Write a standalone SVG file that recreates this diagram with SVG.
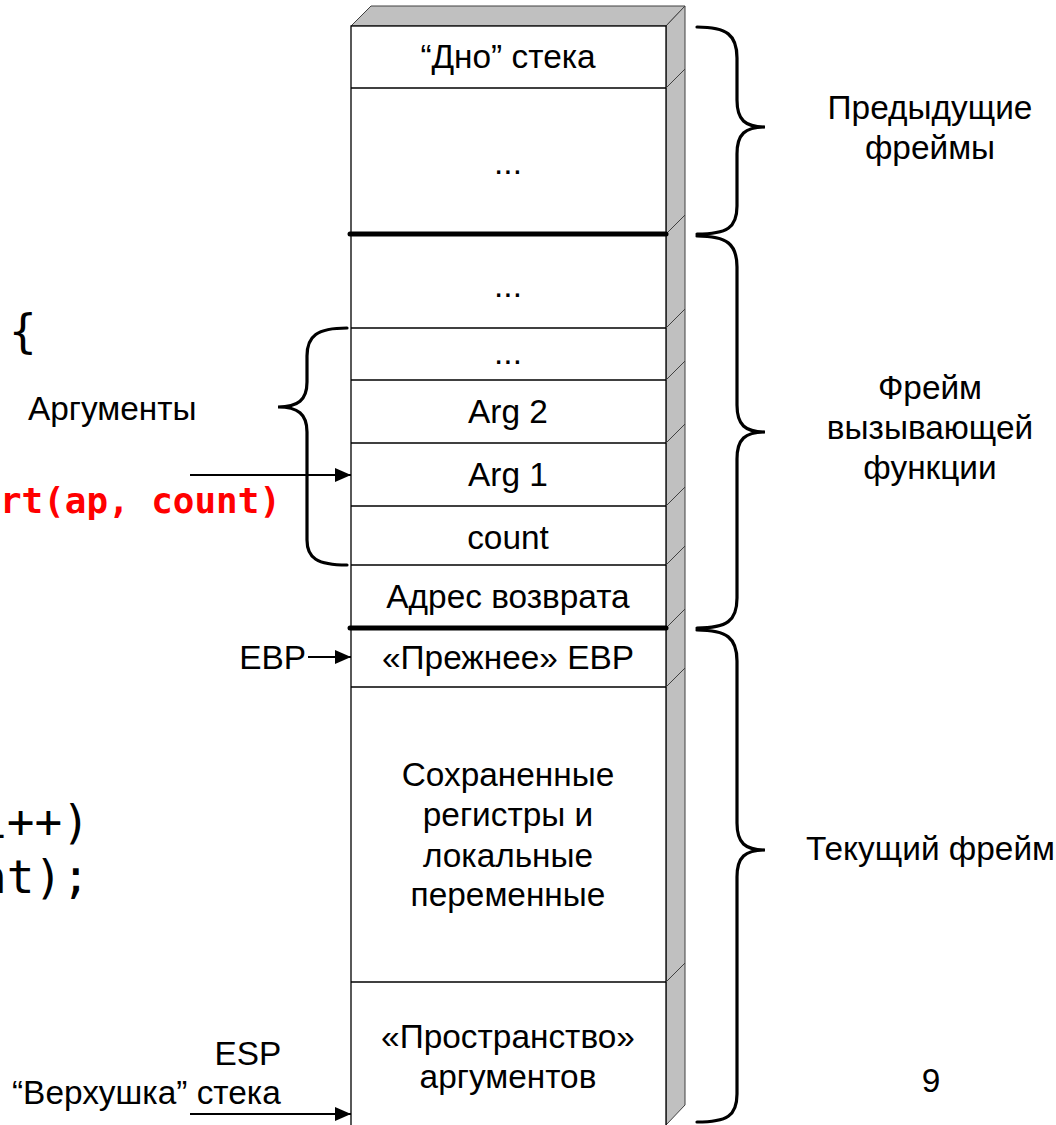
<svg xmlns="http://www.w3.org/2000/svg" width="1056" height="1125" viewBox="0 0 1056 1125">
<defs>
<style>
.t{font-family:"Liberation Sans",Arial,sans-serif;font-size:33.4px;fill:#000}
.c{text-anchor:middle}
.e{text-anchor:end}
.mono{font-family:"DejaVu Sans Mono","Liberation Mono",monospace;font-size:46px;fill:#000}
.red{font-family:"DejaVu Sans Mono","Liberation Mono",monospace;font-size:35.9px;font-weight:bold;fill:#ff0000}
.div{stroke:#000;stroke-width:1.3}
.thick{stroke:#000;stroke-width:5;stroke-linecap:round}
.diag{stroke:#404040;stroke-width:1}
.brace{fill:none;stroke:#000;stroke-width:3.2;stroke-linecap:round}
.arr{stroke:#000;stroke-width:2;fill:none}
</style>
<marker id="ah" markerUnits="userSpaceOnUse" markerWidth="18" markerHeight="14" refX="16" refY="7" orient="auto">
<path d="M0,0 L16,7 L0,14 Z" fill="#000"/>
</marker>
</defs>
<rect width="1056" height="1125" fill="#fff"/>

<g id="code">
<text class="mono" x="9" y="347">{</text>
<text class="red" x="0" y="513">rt(ap, count)</text>
<text class="mono" x="-21" y="838">i++)</text>
<text class="mono" x="-21" y="893">nt);</text>
</g>

<g id="stack">
<polygon points="351,26 371,6 685,6 666,26" fill="#c0c0c0" stroke="#404040" stroke-width="1"/>
<polygon points="666,26 685,6 685,1105 666,1125" fill="#c0c0c0" stroke="#404040" stroke-width="1"/>
<rect x="351" y="26" width="315" height="1110" fill="#fff" stroke="#000" stroke-width="1.3"/>
<g class="diag">
<line x1="666" y1="88" x2="685" y2="69"/>
<line x1="666" y1="234" x2="685" y2="215"/>
<line x1="666" y1="328" x2="685" y2="309"/>
<line x1="666" y1="380" x2="685" y2="361"/>
<line x1="666" y1="443" x2="685" y2="424"/>
<line x1="666" y1="506" x2="685" y2="487"/>
<line x1="666" y1="565" x2="685" y2="546"/>
<line x1="666" y1="628" x2="685" y2="609"/>
<line x1="666" y1="687" x2="685" y2="668"/>
<line x1="666" y1="982" x2="685" y2="963"/>
</g>
<g class="div">
<line x1="351" y1="88" x2="666" y2="88"/>
<line x1="351" y1="328" x2="666" y2="328"/>
<line x1="351" y1="380" x2="666" y2="380"/>
<line x1="351" y1="443" x2="666" y2="443"/>
<line x1="351" y1="506" x2="666" y2="506"/>
<line x1="351" y1="565" x2="666" y2="565"/>
<line x1="351" y1="687" x2="666" y2="687"/>
<line x1="351" y1="982" x2="666" y2="982"/>
</g>
<line class="thick" x1="350" y1="234" x2="666" y2="234"/>
<line class="thick" x1="350" y1="628" x2="666" y2="628"/>
</g>

<g id="cell-bottom"><text class="t c" x="508" y="68">“Дно” стека</text></g>
<g id="cell-prev"><text class="t c" x="508" y="174">...</text></g>
<g id="cell-caller"><text class="t c" x="508" y="297">...</text></g>
<g id="cell-args-more"><text class="t c" x="508" y="364">...</text></g>
<g id="cell-arg2"><text class="t c" x="508" y="423">Arg 2</text></g>
<g id="cell-arg1"><text class="t c" x="508" y="486">Arg 1</text></g>
<g id="cell-count"><text class="t c" x="508" y="549">count</text></g>
<g id="cell-ret"><text class="t c" x="508" y="608">Адрес возврата</text></g>
<g id="cell-ebp"><text class="t c" x="508" y="669">«Прежнее» EBP</text></g>
<g id="cell-locals"><text class="t c" x="508" y="786">Сохраненные</text><text class="t c" x="508" y="826">регистры и</text><text class="t c" x="508" y="867">локальные</text><text class="t c" x="508" y="906">переменные</text></g>
<g id="cell-argspace"><text class="t c" x="508" y="1048">«Пространство»</text><text class="t c" x="508" y="1088">аргументов</text></g>

<g id="labels">
<text class="t c" x="930" y="119">Предыдущие</text>
<text class="t c" x="930" y="159">фреймы</text>
<text class="t c" x="930" y="399">Фрейм</text>
<text class="t c" x="930" y="439">вызывающей</text>
<text class="t c" x="930" y="479">функции</text>
<text class="t" x="806" y="860">Текущий фрейм</text>
<text class="t c" x="931" y="1092">9</text>
<text class="t" x="28" y="420">Аргументы</text>
<text class="t e" x="306" y="669">EBP</text>
<text class="t c" x="248" y="1065">ESP</text>
<text class="t" x="12" y="1104">“Верхушка” стека</text>
</g>

<g id="connectors">
<path class="brace" d="M697,27 C727,27 737,35 737,58 L737,100 C737,120 745,127 765,127 C745,127 737,134 737,154 L737,206 C737,228 727,234 697,234"/>
<path class="brace" d="M697,236 C727,236 737,244 737,267 L737,405 C737,425 745,432 765,432 C745,432 737,439 737,459 L737,598 C737,621 727,628 697,628"/>
<path class="brace" d="M697,630 C727,630 737,638 737,661 L737,823 C737,843 745,850 765,850 C745,850 737,857 737,877 L737,1094 C737,1116 727,1122 697,1122"/>
<path class="brace" d="M347,328 C317,328 307,336 307,356 L307,382 C307,400 298,407 278,407 C298,407 307,414 307,432 L307,540 C307,558 317,565 347,565"/>
<line class="arr" x1="190" y1="475" x2="351" y2="475" marker-end="url(#ah)"/>
<line class="arr" x1="308" y1="657" x2="351" y2="657" marker-end="url(#ah)"/>
<line class="arr" x1="190" y1="1114" x2="351" y2="1114" marker-end="url(#ah)"/>
</g>
</svg>
